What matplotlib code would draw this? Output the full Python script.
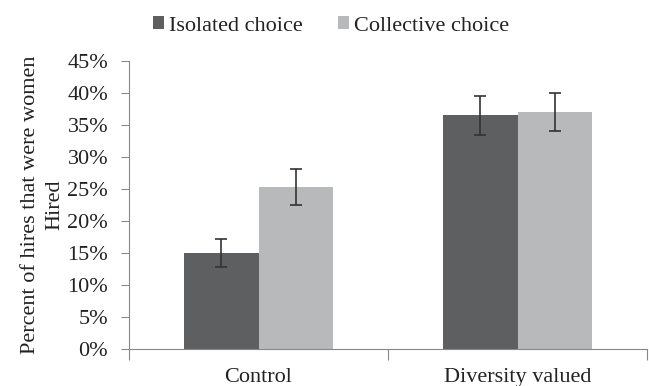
import matplotlib
matplotlib.use("Agg")
import matplotlib.pyplot as plt
import numpy as np
from matplotlib.ticker import PercentFormatter, FixedLocator

categories = ["Control", "Diversity valued"]
series_names = ["Isolated choice", "Collective choice"]
isolated = [15.0, 36.5]
collective = [25.3, 37.0]
isolated_err = [2.2, 3.1]
collective_err = [2.8, 3.0]
yticks = [0, 5, 10, 15, 20, 25, 30, 35, 40, 45]

plt.rcParams['font.family'] = ['Liberation Serif', 'DejaVu Serif']
FS = 16

fig = plt.figure(figsize=(6.49, 3.86), dpi=100)
ax = fig.add_axes([129/649, 1-349/386, (647-129)/649, (349-61)/386])

x = np.arange(len(categories))
w = 0.286
dark = "#5e5f61"
light = "#b8b9bb"
ax.bar(x - w/2, isolated, w, color=dark, label=series_names[0], zorder=2)
ax.bar(x + w/2, collective, w, color=light, label=series_names[1], zorder=2)
ax.errorbar(x - w/2, isolated, yerr=isolated_err, fmt='none', ecolor='#333333',
            elinewidth=1.2, capsize=4, capthick=1.2, zorder=3)
ax.errorbar(x + w/2, collective, yerr=collective_err, fmt='none', ecolor='#333333',
            elinewidth=1.2, capsize=4, capthick=1.2, zorder=3)

ax.set_xlim(-0.5, 1.5)
ax.set_ylim(0, 45)
ax.set_yticks(yticks)
ax.yaxis.set_major_formatter(PercentFormatter(decimals=0))
ax.set_xticks(x)
ax.set_xticklabels(categories)
ax.xaxis.set_minor_locator(FixedLocator([-0.5, 0.5, 1.5]))
ax.tick_params(axis='x', which='major', length=0, pad=14, labelsize=FS, colors='#222222')
ax.tick_params(axis='x', which='minor', length=8, width=0.8, color='#888888', direction='out')
ax.tick_params(axis='y', which='major', length=6, width=0.8, color='#888888',
               labelsize=FS, labelcolor='#222222', pad=9)

for s in ['top', 'right']:
    ax.spines[s].set_visible(False)
for s in ['left', 'bottom']:
    ax.spines[s].set_color('#888888')
    ax.spines[s].set_linewidth(0.8)

ax.set_ylabel("Percent of hires that were women\nHired", fontsize=FS, color='#222222',
              linespacing=1.4, labelpad=2)

fig.legend(loc='center', bbox_to_anchor=(0.51, 1-26/386), ncol=2, frameon=False,
           fontsize=FS, handlelength=0.5, handleheight=0.5, handletextpad=0.2,
           columnspacing=1.6, labelcolor='#222222', borderpad=0)

fig.savefig("out.png", dpi=100)
